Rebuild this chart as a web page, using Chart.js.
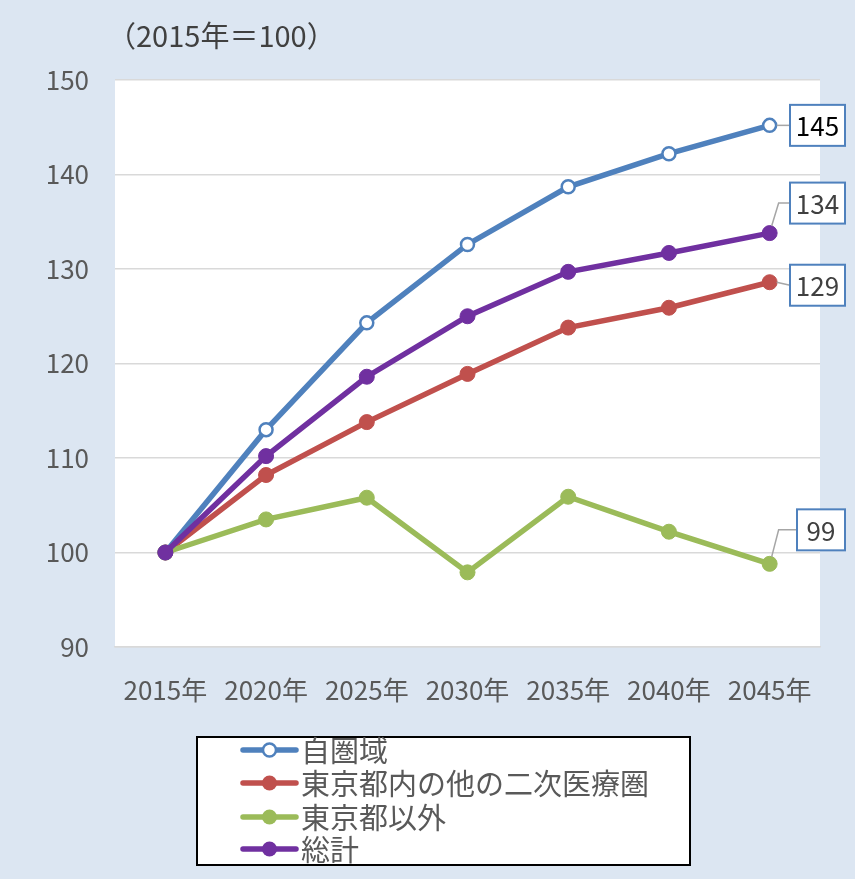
<!DOCTYPE html>
<html>
<head>
<meta charset="utf-8">
<script src="https://cdn.jsdelivr.net/npm/chart.js@4"></script>
<style>
  html, body { margin: 0; padding: 0; background: #dce6f2; }
  canvas { display: block; }
</style>
</head>
<body>
<canvas id="myChart" width="855" height="879"></canvas>
<script>
const ctx = document.getElementById('myChart');

// Data
const years = ['2015年', '2020年', '2025年', '2030年', '2035年', '2040年', '2045年'];
const ownArea = [100, 113.0, 124.3, 132.6, 138.7, 142.2, 145.2];
const otherTokyo = [100, 108.2, 113.8, 118.9, 123.8, 125.9, 128.6];
const outsideTokyo = [100, 103.5, 105.8, 97.9, 105.9, 102.2, 98.8];
const total = [100, 110.2, 118.6, 125.0, 129.7, 131.7, 133.8];
const seriesNames = ['自圏域', '東京都内の他の二次医療圏', '東京都以外', '総計'];
const endLabels = ['145', '129', '99', '134'];
const yTicks = [90, 100, 110, 120, 130, 140, 150];

const FONT = '"Noto Sans CJK JP", "Noto Sans", sans-serif';
const colors = ['#4f81bd', '#c0504d', '#9bbb59', '#7030a0'];

// where each end label box sits relative to its last point (dy), and box width
const labelStyle = [
    { dy: 0, w: 55, color: '#000000' },
    { dy: 3, w: 55, color: '#404040' },
    { dy: -34, w: 48, color: '#404040' },
    { dy: -30, w: 55, color: '#404040' }
];

function makeSet(i, data, order) {
    return {
        label: seriesNames[i],
        data: data,
        borderColor: colors[i],
        backgroundColor: i === 0 ? '#ffffff' : colors[i],
        pointBackgroundColor: i === 0 ? '#ffffff' : colors[i],
        pointBorderColor: colors[i],
        pointBorderWidth: i === 0 ? 2.5 : 1,
        pointRadius: i === 0 ? 6.5 : 7.5,
        borderWidth: 5.5,
        tension: 0,
        order: order
    };
}

const bgPlugin = {
    id: 'bg',
    beforeDraw(chart) {
        const c = chart.ctx, a = chart.chartArea;
        c.save();
        c.fillStyle = '#dce6f2';
        c.fillRect(0, 0, chart.width, chart.height);
        c.fillStyle = '#ffffff';
        c.fillRect(a.left, a.top, a.right - a.left, a.bottom - a.top);
        c.restore();
    }
};

const labelPlugin = {
    id: 'endLabels',
    afterDatasetsDraw(chart) {
        const c = chart.ctx, a = chart.chartArea;
        c.save();
        chart.data.datasets.forEach((ds, i) => {
            const meta = chart.getDatasetMeta(i);
            const pt = meta.data[meta.data.length - 1];
            const st = labelStyle[i];
            const bh = 41;
            const right = a.right + 25;
            const left = right - st.w;
            const cy = pt.y + st.dy;
            // leader line
            c.strokeStyle = '#a6a6a6';
            c.lineWidth = 1.5;
            c.beginPath();
            if (Math.abs(st.dy) > 8) {
                c.moveTo(pt.x + 2, pt.y + (st.dy < 0 ? -7 : 7));
                c.lineTo(pt.x + 9, cy);
                c.lineTo(left, cy);
            } else {
                c.moveTo(pt.x + 7, pt.y);
                c.lineTo(left, cy);
            }
            c.stroke();
            // box
            c.fillStyle = '#ffffff';
            c.fillRect(left, cy - bh / 2, st.w, bh);
            c.strokeStyle = '#4f81bd';
            c.lineWidth = 2;
            c.strokeRect(left, cy - bh / 2, st.w, bh);
            c.fillStyle = st.color;
            c.font = '26px ' + FONT;
            c.textAlign = 'center';
            c.textBaseline = 'middle';
            c.fillText(endLabels[i], left + st.w / 2, cy + 1);
        });
        c.restore();
    }
};

const legendPlugin = {
    id: 'boxLegend',
    afterDraw(chart) {
        const c = chart.ctx;
        c.save();
        c.fillStyle = '#ffffff';
        c.fillRect(197, 737, 493, 128);
        c.strokeStyle = '#000000';
        c.lineWidth = 2;
        c.strokeRect(197, 737, 493, 128);
        const rows = [750, 783, 817, 849];
        c.font = '29px ' + FONT;
        c.textBaseline = 'middle';
        c.textAlign = 'left';
        seriesNames.forEach((name, i) => {
            const y = rows[i];
            c.strokeStyle = colors[i];
            c.lineWidth = 5.5;
            c.lineCap = 'round';
            c.beginPath();
            c.moveTo(243, y);
            c.lineTo(296, y);
            c.stroke();
            c.beginPath();
            c.arc(269.5, y, i === 0 ? 6.5 : 7.5, 0, Math.PI * 2);
            c.fillStyle = i === 0 ? '#ffffff' : colors[i];
            c.fill();
            if (i === 0) {
                c.lineWidth = 2.5;
                c.stroke();
            }
            c.fillStyle = '#595959';
            c.fillText(name, 301, y + 1);
        });
        c.restore();
    }
};

const titlePlugin = {
    id: 'unitTitle',
    afterDraw(chart) {
        const c = chart.ctx;
        c.save();
        c.fillStyle = '#404040';
        c.font = '29px ' + FONT;
        c.textBaseline = 'middle';
        c.fillText('（2015年＝100）', 107, 36);
        c.restore();
    }
};

const options = {
    responsive: false,
    animation: false,
    layout: { padding: { top: 80, right: 35, bottom: 0, left: 0 } },
    plugins: {
        legend: { display: false },
        tooltip: { enabled: false }
    },
    scales: {
        x: {
            offset: true,
            afterFit(scale) { scale.height = 232; },
            grid: { display: false, drawTicks: false, offset: true },
            border: { display: true, color: '#d9d9d9', width: 1.5 },
            ticks: { color: '#595959', font: { family: FONT, size: 26 }, padding: 28, maxRotation: 0, autoSkip: false }
        },
        y: {
            min: 90,
            max: 150,
            afterFit(scale) { scale.width = 115; },
            afterBuildTicks(scale) { scale.ticks = yTicks.map(v => ({ value: v })); },
            grid: { color: '#d9d9d9', lineWidth: 1.5, drawTicks: false },
            border: { display: false },
            ticks: { color: '#595959', font: { family: FONT, size: 26 }, padding: 26 }
        }
    }
};

const chartData = {
    type: 'line',
    data: {
        labels: years,
        datasets: [
            makeSet(0, ownArea, 1),
            makeSet(1, otherTokyo, 3),
            makeSet(2, outsideTokyo, 2),
            makeSet(3, total, 0)
        ]
    },
    options: options,
    plugins: [bgPlugin, labelPlugin, legendPlugin, titlePlugin]
};

const myChart = new Chart(ctx, chartData);
</script>
</body>
</html>
